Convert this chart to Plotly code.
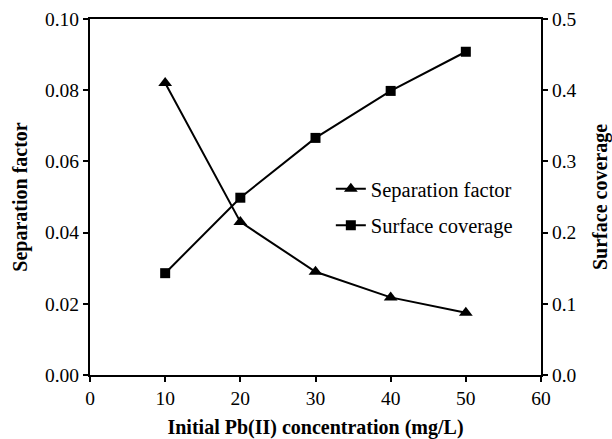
import plotly.graph_objects as go

conc = [10, 20, 30, 40, 50]
separation_factor = [0.082, 0.043, 0.029, 0.0218, 0.0175]
surface_coverage = [0.143, 0.249, 0.333, 0.399, 0.454]

x_ticks = [0, 10, 20, 30, 40, 50, 60]
y1_ticks = [0.00, 0.02, 0.04, 0.06, 0.08, 0.10]
y2_ticks = [0.0, 0.1, 0.2, 0.3, 0.4, 0.5]

font_family = "'Liberation Serif', 'Times New Roman', Times, serif"

fig = go.Figure()
fig.add_trace(go.Scatter(
    x=conc, y=separation_factor, name="Separation factor",
    mode="lines+markers",
    line=dict(color="black", width=2),
    marker=dict(symbol="triangle-up", size=12, color="black"),
    yaxis="y", legend="legend"))
fig.add_trace(go.Scatter(
    x=conc, y=surface_coverage, name="Surface coverage",
    mode="lines+markers",
    line=dict(color="black", width=2),
    marker=dict(symbol="square", size=10, color="black"),
    yaxis="y2", legend="legend2"))

axis_common = dict(
    showgrid=False, zeroline=False, showline=True, linecolor="black", linewidth=2,
    ticks="outside", ticklen=5, tickwidth=1.5, tickcolor="black",
    tickfont=dict(family=font_family, size=19.5, color="black"),
    automargin=False,
)

legend_common = dict(
    xanchor="left", yanchor="middle",
    bgcolor="rgba(0,0,0,0)", borderwidth=0,
    font=dict(family=font_family, size=20.5, color="black"),
    itemwidth=30,
)

title_font = dict(family=font_family, size=20, color="black")

fig.update_layout(
    width=612, height=439,
    margin=dict(l=90, r=71, t=19, b=64),
    paper_bgcolor="white", plot_bgcolor="white",
    font=dict(family=font_family, color="black"),
    xaxis=dict(
        range=[0, 60], tickvals=x_ticks, ticktext=[str(v) for v in x_ticks],
        mirror=True,
        title=dict(text="<b>Initial Pb(II) concentration (mg/L)</b>",
                   font=title_font, standoff=13),
        **axis_common),
    yaxis=dict(
        range=[0, 0.10], tickvals=y1_ticks, ticktext=[f"{v:.2f}" for v in y1_ticks],
        title=dict(text="<b>Separation factor</b>", font=title_font, standoff=12),
        **axis_common),
    yaxis2=dict(
        range=[0, 0.5], tickvals=y2_ticks, ticktext=[f"{v:.1f}" for v in y2_ticks],
        overlaying="y", side="right",
        title=dict(text="<b>Surface coverage</b>", font=title_font, standoff=17),
        **axis_common),
    legend=dict(x=0.534, y=0.523, **legend_common),
    legend2=dict(x=0.534, y=0.42, **legend_common),
    showlegend=True,
)

fig.write_html("out.html")
